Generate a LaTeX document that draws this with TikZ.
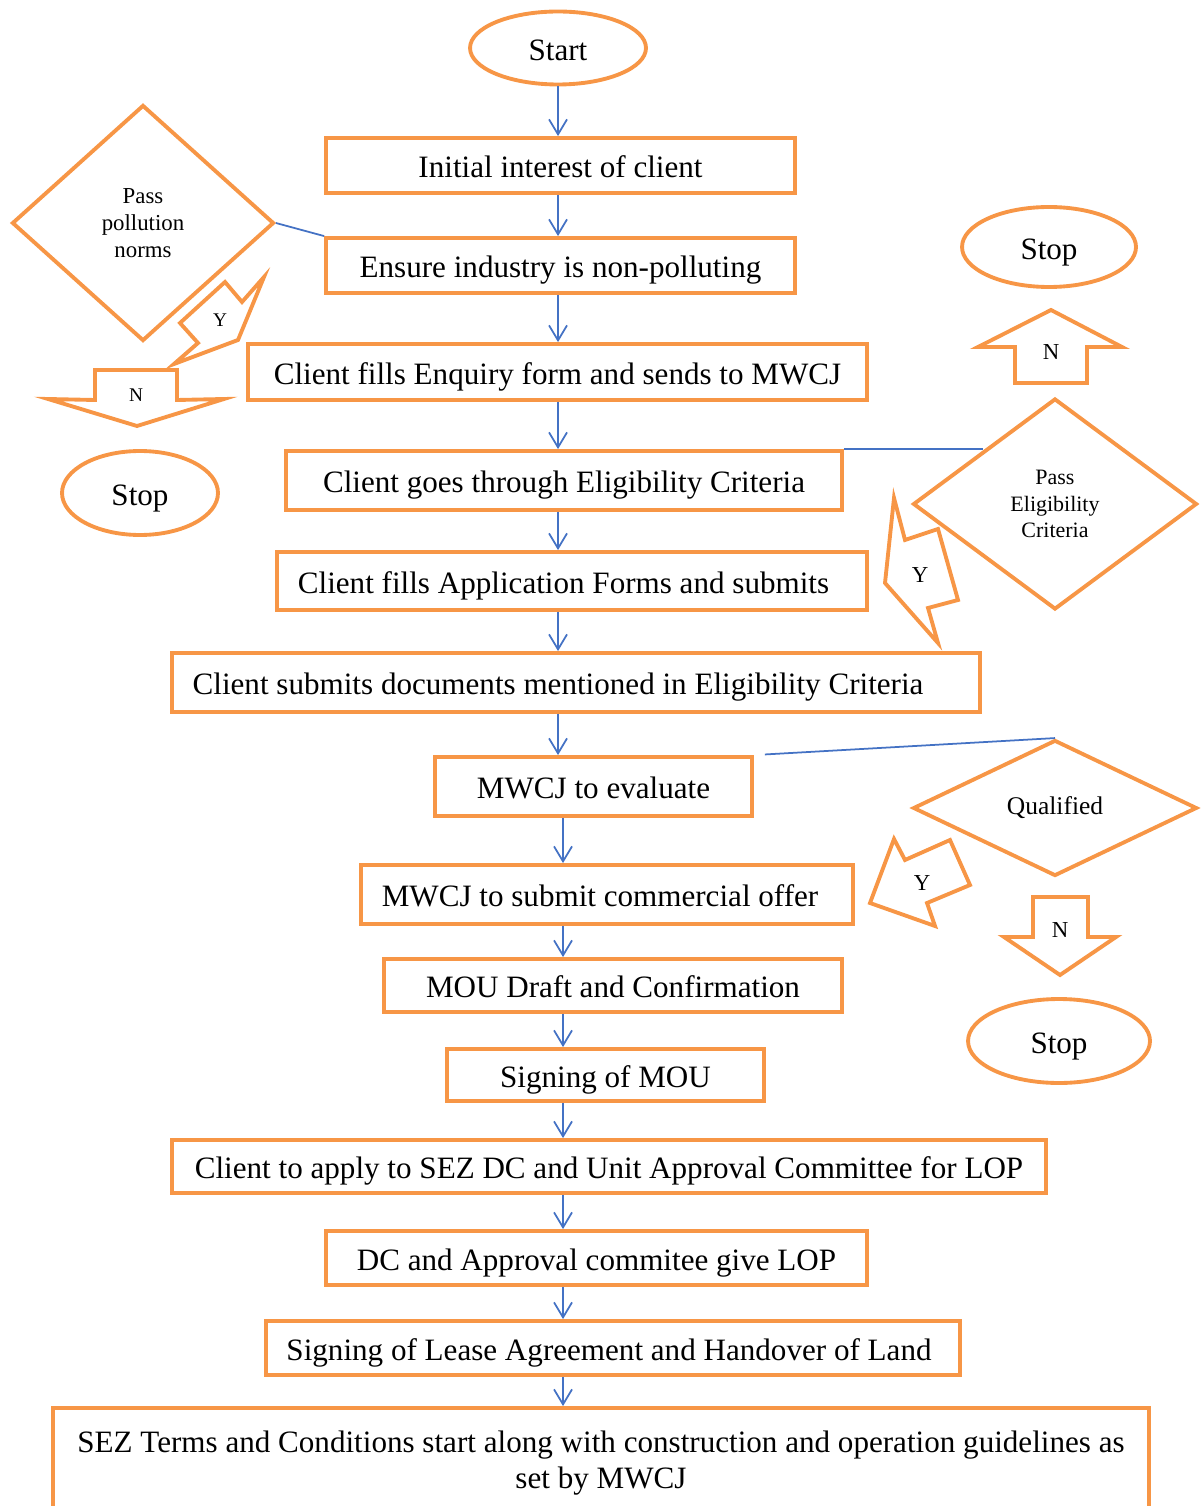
\documentclass[tikz,border=0pt]{standalone}
\usepackage{fontspec}
\setmainfont{Liberation Serif}
\usepackage{tikz}
\usetikzlibrary{shapes.geometric,arrows.meta}
\definecolor{accorange}{HTML}{F79646}
\definecolor{accblue}{HTML}{4472C4}
\tikzset{box/.style={rectangle,draw=accorange,line width=2.2pt,inner sep=0pt,text height=14pt,text depth=0pt,font=\fontsize{17.7}{20.4}\selectfont}}
\tikzset{ell/.style={ellipse,draw=accorange,line width=2.2pt,inner sep=0pt,text height=14pt,text depth=0pt,font=\fontsize{17.7}{20.4}\selectfont}}
\tikzset{dia/.style={diamond,draw=accorange,line width=2.2pt,inner sep=0pt,align=center}}
\tikzset{blk/.style={draw=accorange,line width=2.2pt}}
\tikzset{yn/.style={inner sep=0pt}}
\tikzset{link/.style={draw=accblue,line width=1pt}}

\begin{document}
\begin{tikzpicture}[x=0.02cm,y=-0.02cm,>={Straight Barb[length=3mm,width=3.6mm]}]
    \useasboundingbox (0,0) rectangle (1202,1506);
    \clip (0,0) rectangle (1202,1506);
    \coordinate (colA) at (558,0);
    \coordinate (colB) at (563,0);

    % main column
    \node[ell,minimum width=3.52cm,minimum height=1.46cm] (start) at (558,48) {Start};
    \node[box,minimum width=9.38cm,minimum height=1.1cm] (interest) at (560.5,165.5) {Initial interest of client};
    \node[box,minimum width=9.38cm,minimum height=1.1cm] (nonpoll) at (560.5,265.5) {Ensure industry is non-polluting};
    \node[box,minimum width=12.38cm,minimum height=1.12cm] (enquiry) at (557.5,372) {Client fills Enquiry form and sends to MWCJ};
    \node[box,minimum width=11.12cm,minimum height=1.18cm] (elig) at (564,480.5) {Client goes through Eligibility Criteria};
    \node[box,minimum width=11.8cm,minimum height=1.16cm] (appl) at (572,581) {Client fills Application Forms and submits\kern0.34cm};
    \node[box,minimum width=16.16cm,minimum height=1.18cm] (docs) at (576,682.5) {Client submits documents mentioned in Eligibility Criteria\kern0.72cm};
    \node[box,minimum width=6.34cm,minimum height=1.18cm] (evaluate) at (593.5,786.5) {MWCJ to evaluate};
    \node[box,minimum width=9.84cm,minimum height=1.18cm] (offer) at (607,894.5) {MWCJ to submit commercial offer\kern0.28cm};
    \node[box,minimum width=9.16cm,minimum height=1.06cm] (mou) at (613,985.5) {MOU Draft and Confirmation};
    \node[box,minimum width=6.34cm,minimum height=1.04cm] (signmou) at (605.5,1075) {Signing of MOU};
    \node[box,minimum width=17.48cm,minimum height=1.06cm] (apply) at (609,1166.5) {Client to apply to SEZ DC and Unit Approval Committee for LOP};
    \node[box,minimum width=10.82cm,minimum height=1.08cm] (lop) at (596.5,1258) {DC and Approval commitee give LOP};
    \node[box,minimum width=13.88cm,minimum height=1.08cm] (lease) at (613,1348) {Signing of Lease Agreement and Handover of Land\kern0.16cm};
    \node[box,align=center,text height=,text depth=,minimum width=21.92cm,minimum height=2.2cm] (terms) at (601,1463) {SEZ Terms and Conditions start along with construction and operation guidelines as\\set by MWCJ};

    % decisions
    \node[dia,minimum width=5.24cm,minimum height=4.72cm,font=\fontsize{13}{15.3}\selectfont] (pollution) at (143,223) {Pass\\pollution\\norms};
    \node[dia,minimum width=5.68cm,minimum height=4.22cm,font=\fontsize{12.5}{15.3}\selectfont] (passelig) at (1055,504) {Pass\\Eligibility\\Criteria};
    \node[dia,minimum width=5.68cm,minimum height=2.72cm,font=\fontsize{14.5}{17}\selectfont] (qualified) at (1055,808) {Qualified};

    % stops
    \node[ell,minimum width=3.12cm,minimum height=1.68cm] (stopA) at (140,493) {Stop};
    \node[ell,minimum width=3.48cm,minimum height=1.6cm] (stopB) at (1049,247) {Stop};
    \node[ell,minimum width=3.64cm,minimum height=1.68cm] (stopC) at (1059,1041) {Stop};

    % block arrows
    \draw[blk] (225,282) -- (242,302) -- (264,277) -- (238,340) -- (174,364) -- (198,343) -- (180,323) -- cycle;
    \node[yn,font=\fontsize{11}{13}\selectfont] (yesA) at (220,320) {Y};
    \draw[blk] (95,370) -- (177,370) -- (177,400) -- (224,399) -- (137,426) -- (48,399) -- (95,400) -- cycle;
    \node[yn,font=\fontsize{11}{13}\selectfont] (noA) at (136,395) {N};
    \draw[blk] (1051,310) -- (1122,347) -- (1087,347) -- (1087,383) -- (1015,383) -- (1015,347) -- (978,347) -- cycle;
    \node[yn,font=\fontsize{13}{15}\selectfont] (noB) at (1051,352) {N};
    \draw[blk] (894,498) -- (905,540) -- (938,529) -- (958,600) -- (928,608) -- (938,643) -- (885,583) -- cycle;
    \node[yn,font=\fontsize{13}{15}\selectfont] (yesB) at (920,575) {Y};
    \draw[blk] (894,839) -- (905,860) -- (950,840) -- (970,885) -- (927,903) -- (935,926) -- (870,903) -- cycle;
    \node[yn,font=\fontsize{13}{15}\selectfont] (yesC) at (922,883) {Y};
    \draw[blk] (1033,897) -- (1088,897) -- (1088,937) -- (1116,937) -- (1060,975) -- (1004,937) -- (1033,937) -- cycle;
    \node[yn,font=\fontsize{13}{15}\selectfont] (noC) at (1060,930) {N};

    % flow arrows
    \draw [link,->] (start.south -| colA) to [] (interest.north -| colA);
    \draw [link,->] (interest.south -| colA) to [] (nonpoll.north -| colA);
    \draw [link,->] (nonpoll.south -| colA) to [] (enquiry.north -| colA);
    \draw [link,->] (enquiry.south -| colA) to [] (elig.north -| colA);
    \draw [link,->] (elig.south -| colA) to [] (appl.north -| colA);
    \draw [link,->] (appl.south -| colA) to [] (docs.north -| colA);
    \draw [link,->] (docs.south -| colA) to [] (evaluate.north -| colA);
    \draw [link,->] (evaluate.south -| colB) to [] (offer.north -| colB);
    \draw [link,->] (offer.south -| colB) to [] (mou.north -| colB);
    \draw [link,->] (mou.south -| colB) to [] (signmou.north -| colB);
    \draw [link,->] (signmou.south -| colB) to [] (apply.north -| colB);
    \draw [link,->] (apply.south -| colB) to [] (lop.north -| colB);
    \draw [link,->] (lop.south -| colB) to [] (lease.north -| colB);
    \draw [link,->] (lease.south -| colB) to [] (terms.north -| colB);

    % links to decisions
    \draw [link] (pollution.east) to [] (nonpoll.north west);
    \draw [link] (elig.north east) to [] (elig.north east -| passelig.north west);
    \draw [link,shorten <=2.2mm] (evaluate.north east) to [] (qualified.north);
\end{tikzpicture}
\end{document}
